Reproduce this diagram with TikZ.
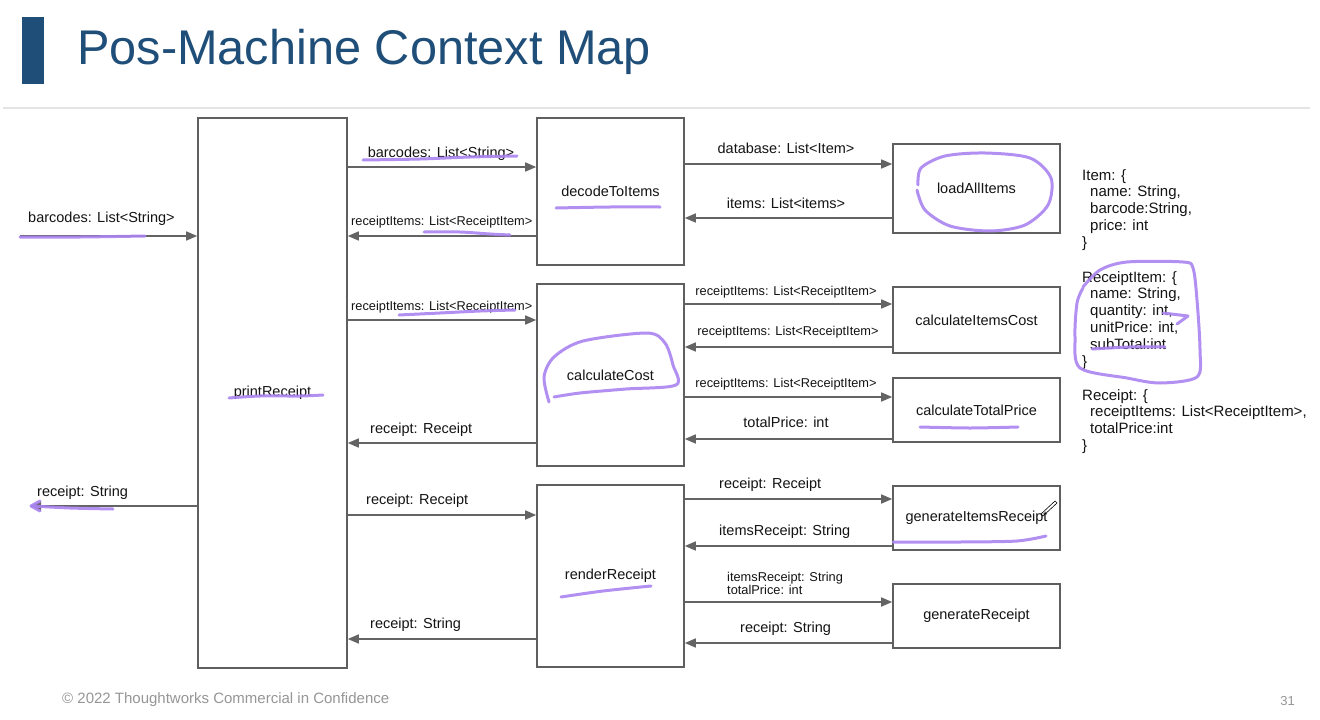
\documentclass[tikz,border=0pt]{standalone}
\usepackage{fontspec}
\setmainfont{Liberation Sans}
\usetikzlibrary{arrows.meta}
\newcommand{\myfsN}{\fontsize{14.5}{17}\selectfont}
\newcommand{\myfsS}{\fontsize{12.8}{13}\selectfont}
\newcommand{\myfsR}{\fontsize{15}{16.8}\selectfont}
\definecolor{titleblue}{RGB}{31,78,121}
\definecolor{boxgray}{RGB}{95,95,95}
\definecolor{arrgray}{RGB}{100,100,100}
\definecolor{textcol}{RGB}{20,20,20}
\definecolor{footgray}{RGB}{150,150,150}
\definecolor{sepgray}{RGB}{228,228,228}
\definecolor{annpurple}{RGB}{170,132,240}
\begin{document}
\begin{tikzpicture}[x=1pt,y=-1pt,
  fbox/.style={draw=boxgray, line width=1.6pt, fill=white, inner sep=0pt,
    font=\myfsN, text=textcol},
  arr/.style={draw=arrgray, line width=1.6pt, -{Triangle[length=11pt,width=9pt]}},
  lab/.style={font=\myfsN, text=textcol, inner sep=0pt},
  slab/.style={font=\myfsS, text=textcol, inner sep=0pt},
  rtext/.style={font=\myfsR, text=textcol, inner sep=0pt, align=left, anchor=north west},
  annot/.style={draw=annpurple, line width=3pt, line cap=round, line join=round, opacity=0.9}]
\useasboundingbox (0,0) rectangle (1320,720);
\fill[white] (0,0) rectangle (1320,720);

% title
\fill[titleblue] (22,17) rectangle (44,84);
\node[anchor=base west, inner sep=0pt, font=\fontsize{48.7}{56}\selectfont, text=titleblue] (title) at (77,64) {Pos-Machine Context Map};
\draw[sepgray, line width=2.5pt] (3,108) -- (1310,108);

% boxes
\node[fbox, minimum width=149pt, minimum height=550pt] (pr) at (272.5,393) {printReceipt};
\node[fbox, minimum width=147pt, minimum height=147pt] (dec) at (610.5,191.5) {decodeToItems};
\node[fbox, minimum width=147pt, minimum height=182pt] (cc) at (610.5,375) {calculateCost};
\node[fbox, minimum width=147pt, minimum height=182pt] (rr) at (610.5,576) {renderReceipt};
\node[fbox, minimum width=167pt, minimum height=89pt] (la) at (976.5,188.5) {loadAllItems};
\node[fbox, minimum width=167pt, minimum height=66pt] (cic) at (976.5,320) {calculateItemsCost};
\node[fbox, minimum width=167pt, minimum height=64pt] (ctp) at (976.5,410) {calculateTotalPrice};
\node[fbox, minimum width=167pt, minimum height=64pt] (gir) at (976.5,518) {generateItemsReceipt};
\node[fbox, minimum width=167pt, minimum height=64pt] (gr) at (976.5,616) {generateReceipt};

% free ends
\coordinate (inL) at (20,236);
\coordinate (outL) at (30,506);

% connectors
\draw[arr] (inL) -- (pr.west |- inL);
\draw[arr] (pr.west |- outL) -- (outL);
\draw[arr] (pr.east |- 0,167) -- (dec.west |- 0,167);
\draw[arr] (dec.west |- 0,236) -- (pr.east |- 0,236);
\draw[arr] (pr.east |- 0,320) -- (cc.west |- 0,320);
\draw[arr] (cc.west |- 0,443) -- (pr.east |- 0,443);
\draw[arr] (pr.east |- 0,515) -- (rr.west |- 0,515);
\draw[arr] (rr.west |- 0,639) -- (pr.east |- 0,639);
\draw[arr] (dec.east |- 0,164) -- (la.west |- 0,164);
\draw[arr] (la.west |- 0,218) -- (dec.east |- 0,218);
\draw[arr] (cc.east |- 0,304) -- (cic.west |- 0,304);
\draw[arr] (cic.west |- 0,347) -- (cc.east |- 0,347);
\draw[arr] (cc.east |- 0,397) -- (ctp.west |- 0,397);
\draw[arr] (ctp.west |- 0,439) -- (cc.east |- 0,439);
\draw[arr] (rr.east |- 0,499) -- (gir.west |- 0,499);
\draw[arr] (gir.west |- 0,546) -- (rr.east |- 0,546);
\draw[arr] (rr.east |- 0,602) -- (gr.west |- 0,602);
\draw[arr] (gr.west |- 0,643) -- (rr.east |- 0,643);

% connector labels
\node[lab, anchor=base west] (l1) at (28,222) {barcodes: List<String>};
\node[lab, anchor=base west] (l2) at (37,496) {receipt: String};
\node[lab, anchor=base] (l3) at (441,157) {barcodes: List<String>};
\node[slab, anchor=base west] (l4) at (351,225) {receiptItems: List<ReceiptItem>};
\node[slab, anchor=base west] (l5) at (351,310) {receiptItems: List<ReceiptItem>};
\node[lab, anchor=base west] (l6) at (370,433) {receipt: Receipt};
\node[lab, anchor=base west] (l7) at (366,504) {receipt: Receipt};
\node[lab, anchor=base west] (l8) at (370,628) {receipt: String};
\node[lab, anchor=base] (l9) at (786,153) {database: List<Item>};
\node[lab, anchor=base] (l10) at (786,208) {items: List<items>};
\node[slab, anchor=base] (l11) at (786,295) {receiptItems: List<ReceiptItem>};
\node[slab, anchor=base] (l12) at (788,335) {receiptItems: List<ReceiptItem>};
\node[slab, anchor=base] (l13) at (786,387) {receiptItems: List<ReceiptItem>};
\node[lab, anchor=base] (l14) at (786,427) {totalPrice: int};
\node[lab, anchor=base west] (l15) at (719,488) {receipt: Receipt};
\node[lab, anchor=base west] (l16) at (719,535) {itemsReceipt: String};
\node[slab, align=left, anchor=north west] (l17) at (727,572.5) {itemsReceipt: String\\totalPrice: int};
\node[lab, anchor=base west] (l18) at (740,632) {receipt: String};

% type definitions
\node[rtext] (tItem) at (1082,169) {Item: \{\\\hspace*{8pt}name: String,\\\hspace*{8pt}barcode:String,\\\hspace*{8pt}price: int\\\}};
\node[rtext] (tRI) at (1082,271) {ReceiptItem: \{\\\hspace*{8pt}name: String,\\\hspace*{8pt}quantity: int,\\\hspace*{8pt}unitPrice: int,\\\hspace*{8pt}subTotal:int\\\}};
\node[rtext] (tR) at (1082,389) {Receipt: \{\\\hspace*{8pt}receiptItems: List<ReceiptItem>,\\\hspace*{8pt}totalPrice:int\\\}};

% footer
\node[anchor=base west, inner sep=0pt, font=\fontsize{15}{17}\selectfont, text=footgray] (foot) at (62,703) {© 2022 Thoughtworks Commercial in Confidence};
\node[anchor=base east, inner sep=0pt, font=\fontsize{13}{15}\selectfont, text=footgray] (pg) at (1295,705) {31};

% hand-drawn annotations
\draw[annot] plot[smooth] coordinates {(20,237) (80,237) (145,236)};
\draw[annot] plot[smooth] coordinates {(32,506) (70,508) (113,509)};
\draw[annot] (40,501) -- (31,506) -- (40,511);
\draw[annot] plot[smooth] coordinates {(229,398) (260,396) (300,396) (323,395)};
\draw[annot] plot[smooth] coordinates {(363,160) (420,159) (470,157) (517,156)};
\draw[annot] plot[smooth] coordinates {(424,232) (460,232) (490,234) (510,235)};
\draw[annot] plot[smooth] coordinates {(399,315) (440,313) (480,311) (515,310)};
\draw[annot] plot[smooth] coordinates {(556,208) (610,207) (660,207)};
\draw[annot] plot[smooth] coordinates {(549,402) (544,377) (554,357) (583,341) (647,333) (665,343) (673,365) (676,385) (626,389) (580,393) (554,397)};
\draw[annot] plot[smooth] coordinates {(918,185) (921,168) (945,156) (985,153) (1030,158) (1051,178) (1048,205) (1025,225) (990,231) (950,226) (925,210) (917,190)};
\draw[annot] plot[smooth] coordinates {(920,427) (970,428) (1018,427)};
\draw[annot] plot[smooth] coordinates {(893,542) (960,542) (1017,541) (1046,536)};
\draw[annot] plot[smooth] coordinates {(561,597) (603,591) (651,586)};
\draw[annot] plot[smooth] coordinates {(1083,287) (1100,270) (1127,262) (1183,262) (1193,268) (1197,300) (1200,350) (1197,377) (1160,383) (1127,378) (1080,368) (1075,337) (1077,303) (1083,288)};
\draw[annot] (1163,313) -- (1188,316) -- (1177,324);
\draw[annot] plot[smooth] coordinates {(1092,349) (1130,347) (1165,347)};
% pencil cursor
\draw[black, line width=0.6pt] (1041,514) -- (1055,501) -- (1057,503) -- (1043,516) -- cycle;
\end{tikzpicture}
\end{document}
